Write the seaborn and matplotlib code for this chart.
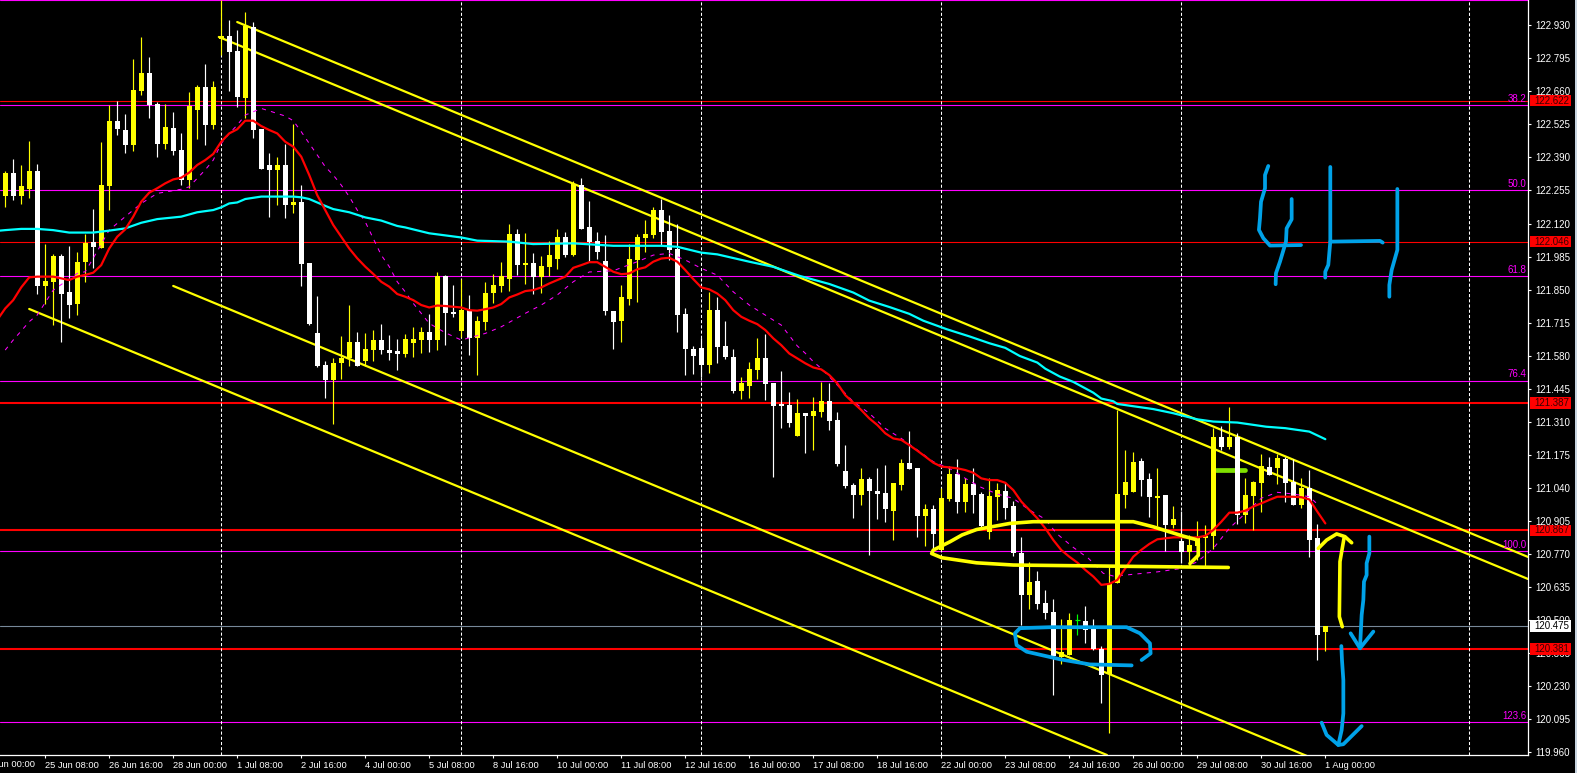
import matplotlib
matplotlib.use("Agg")
import matplotlib.pyplot as plt
from matplotlib.patches import Rectangle
from matplotlib.transforms import blended_transform_factory
import seaborn as sns

candle_kind = list("YWYYWYYWWY" "YWYYWWYYWW" "YWWYYWYYWW" "YWWWYWYWWW" "WYYYWYYWWW"
                   "YYYWYWWYWY" "YYYYWYWYYY" "WYWWWWWYYY" "YYWWWWWWYW" "WWYYYWWWWY"
                   "WYYWWWWYWW" "WYYWWYWYYW" "YWWYYWWWYW" "WWYYGWWWYY" "YYWWYWYWYY"
                   "YYWYWYYYWY" "WWYWWY")

body_top = [
 122.328,122.328,122.273,122.334,122.334,121.885,121.987,121.987,121.840,121.963,
 122.040,122.044,122.277,122.539,122.539,122.502,122.665,122.735,122.735,122.608,
 122.514,122.510,122.420,122.600,122.678,122.678,122.678,122.886,122.886,122.825,
 122.927,122.923,122.506,122.359,122.359,122.359,122.208,122.208,121.959,121.673,
 121.542,121.550,121.571,121.636,121.636,121.607,121.644,121.644,121.603,121.599,
 121.648,121.648,121.677,121.677,121.905,121.905,121.758,121.766,121.766,121.721,
 121.836,121.869,121.905,122.077,122.077,121.958,121.958,121.946,121.991,122.065,
 122.065,122.281,122.277,122.105,122.048,121.967,121.762,121.819,121.975,122.065,
 122.077,122.175,122.175,122.089,122.016,121.750,121.607,121.611,121.766,121.766,
 121.619,121.574,121.468,121.525,121.570,121.570,121.468,121.382,121.378,121.346,
 121.346,121.354,121.395,121.395,121.317,121.109,121.052,121.076,121.076,121.027,
 121.019,121.060,121.142,121.142,121.121,120.954,120.954,121.000,121.097,121.097,
 121.056,121.056,121.015,121.007,121.031,121.027,120.966,120.774,120.656,120.660,
 120.570,120.533,120.370,120.501,120.500,120.496,120.464,120.382,120.652,121.015,
 121.064,121.146,121.150,121.077,121.007,121.011,120.913,120.823,120.807,120.840,
 120.844,121.248,121.248,121.248,121.248,121.011,121.064,121.130,121.126,121.162,
 121.158,121.064,121.040,121.040,120.836,120.476]

body_bottom = [
 122.232,122.232,122.232,122.261,121.865,121.865,121.881,121.832,121.787,121.791,
 121.963,122.024,122.020,122.273,122.506,122.441,122.441,122.661,122.604,122.445,
 122.445,122.416,122.298,122.298,122.584,122.522,122.522,122.874,122.821,122.637,
 122.633,122.502,122.343,122.339,122.339,122.196,122.196,121.955,121.709,121.538,
 121.481,121.481,121.550,121.571,121.538,121.558,121.603,121.603,121.591,121.587,
 121.587,121.632,121.644,121.644,121.644,121.754,121.750,121.681,121.652,121.652,
 121.717,121.836,121.864,121.893,121.950,121.950,121.901,121.901,121.942,121.975,
 121.991,121.991,122.097,122.044,122.003,121.762,121.717,121.721,121.811,121.971,
 122.060,122.073,122.085,122.012,121.746,121.607,121.578,121.542,121.542,121.615,
 121.574,121.435,121.435,121.456,121.521,121.464,121.374,121.374,121.305,121.252,
 121.334,121.334,121.350,121.313,121.138,121.048,121.011,121.011,121.027,121.015,
 120.954,120.946,121.052,121.117,120.925,120.925,120.852,120.786,120.995,120.982,
 120.982,121.011,120.884,120.860,121.003,120.958,120.774,120.602,120.602,120.566,
 120.529,120.354,120.349,120.358,120.496,120.460,120.382,120.276,120.280,120.652,
 121.011,121.023,121.072,121.003,120.999,120.889,120.889,120.778,120.778,120.803,
 120.836,120.844,121.207,121.207,120.930,120.930,121.007,121.060,121.093,121.122,
 121.060,120.970,120.970,120.827,120.439,120.452]

wick_high = [
 122.334,122.383,122.359,122.457,122.363,122.035,121.995,121.995,122.028,122.004,
 122.077,122.179,122.453,122.604,122.620,122.567,122.792,122.882,122.800,122.616,
 122.608,122.575,122.490,122.657,122.686,122.772,122.702,123.033,122.951,122.910,
 122.984,122.943,122.506,122.408,122.392,122.445,122.526,122.277,121.959,121.824,
 121.558,121.570,121.660,121.787,121.677,121.673,121.685,121.709,121.664,121.648,
 121.668,121.697,121.697,121.750,121.922,121.909,121.869,121.893,121.828,121.742,
 121.881,121.913,121.962,122.118,122.097,122.081,121.999,121.987,122.048,122.097,
 122.085,122.293,122.306,122.212,122.085,122.073,121.762,121.869,122.036,122.077,
 122.134,122.187,122.220,122.154,122.118,121.775,121.619,121.652,121.840,121.819,
 121.721,121.607,121.493,121.554,121.652,121.668,121.468,121.517,121.431,121.403,
 121.346,121.411,121.473,121.468,121.350,121.215,121.060,121.121,121.085,121.121,
 121.134,121.060,121.158,121.272,121.121,120.974,120.970,121.040,121.129,121.158,
 121.080,121.121,121.023,121.080,121.060,121.064,120.986,120.839,120.737,120.700,
 120.623,120.586,120.505,120.529,120.525,120.558,120.505,120.394,120.717,121.358,
 121.195,121.187,121.162,121.101,121.122,121.011,120.966,120.946,120.848,120.905,
 120.889,121.285,121.293,121.371,121.264,121.081,121.070,121.179,121.166,121.179,
 121.166,121.158,121.081,121.113,120.893,120.476]

wick_low = [
 122.189,122.216,122.200,122.224,121.832,121.791,121.705,121.636,121.734,121.746,
 121.881,121.938,122.020,122.175,122.482,122.408,122.416,122.645,122.551,122.392,
 122.424,122.400,122.277,122.265,122.465,122.441,122.506,122.808,122.661,122.596,
 122.551,122.469,122.343,122.147,122.196,122.142,122.163,121.865,121.705,121.534,
 121.407,121.301,121.485,121.538,121.538,121.538,121.558,121.587,121.562,121.521,
 121.574,121.574,121.591,121.595,121.603,121.623,121.738,121.656,121.583,121.501,
 121.685,121.795,121.840,121.844,121.909,121.873,121.832,121.836,121.905,121.934,
 121.983,121.987,122.097,121.962,121.975,121.746,121.607,121.636,121.787,121.799,
 122.003,122.060,122.028,121.971,121.677,121.501,121.505,121.493,121.509,121.550,
 121.566,121.427,121.403,121.407,121.484,121.399,121.084,121.284,121.288,121.252,
 121.183,121.195,121.330,121.276,121.129,121.040,120.917,120.970,120.766,120.913,
 120.901,120.827,121.031,121.117,120.839,120.803,120.790,120.786,120.986,120.937,
 120.941,120.937,120.876,120.831,120.909,120.913,120.762,120.480,120.545,120.545,
 120.504,120.194,120.321,120.358,120.439,120.407,120.378,120.161,120.039,120.652,
 120.958,121.023,121.007,120.921,120.885,120.782,120.876,120.733,120.733,120.746,
 120.721,120.791,121.195,121.199,120.893,120.897,120.868,120.942,121.093,121.056,
 120.983,120.970,120.958,120.758,120.337,120.374]

red_bars = list(range(-1, 166))
red_ma = [121.726,
 121.773,121.807,121.859,121.900,121.903,121.903,121.903,121.896,121.889,121.903,
 121.910,121.919,121.950,122.018,122.066,122.096,122.148,122.209,122.246,122.264,
 122.284,122.300,122.307,122.328,122.359,122.379,122.404,122.454,122.488,122.505,
 122.540,122.540,122.518,122.502,122.488,122.454,122.434,122.393,122.318,122.236,
 122.175,122.114,122.066,122.018,121.978,121.944,121.914,121.882,121.862,121.832,
 121.821,121.807,121.787,121.777,121.785,121.783,121.780,121.777,121.766,121.764,
 121.770,121.777,121.791,121.818,121.830,121.844,121.848,121.859,121.875,121.889,
 121.903,121.939,121.950,121.962,121.962,121.943,121.923,121.913,121.916,121.933,
 121.941,121.964,121.977,121.980,121.964,121.930,121.893,121.859,121.851,121.834,
 121.807,121.766,121.739,121.723,121.709,121.685,121.651,121.623,121.589,121.569,
 121.549,121.532,121.524,121.501,121.467,121.419,121.388,121.358,121.324,121.297,
 121.263,121.242,121.236,121.215,121.192,121.168,121.143,121.127,121.124,121.120,
 121.113,121.102,121.079,121.072,121.072,121.061,121.031,120.984,120.950,120.916,
 120.875,120.827,120.786,120.759,120.735,120.705,120.678,120.644,120.648,120.664,
 120.712,120.759,120.787,120.811,120.830,120.834,120.838,120.838,120.838,120.838,
 120.844,120.868,120.902,120.939,120.939,120.947,120.964,120.977,120.991,121.004,
 121.004,121.004,121.002,120.993,120.943,120.895]

cyan_bars = [-1,0,2,4,6,8,11,13,15,17,19,22,24,26,27,28,29,30,32,36,37,38,40,41,43,45,47,49,
             50,53,57,59,63,66,71,76,82,84,87,89,93,96,99.3,103,106,108,110.6,113,114.75,
             117.7,120.6,123,125,126.8,129,130,131.8,133.5,136,137,138.5,139,143.5,146,149,
             151,154,157.6,160,163,165]
cyan_ma = [122.090,122.093,122.098,122.098,122.093,122.083,122.083,122.091,122.100,122.123,
           122.138,122.148,122.166,122.175,122.186,122.202,122.206,122.220,122.230,122.230,
           122.227,122.220,122.192,122.179,122.166,122.145,122.132,122.110,
           122.104,122.080,122.063,122.050,122.046,122.036,122.039,122.029,122.029,122.025,
           122.001,121.994,121.964,121.943,121.906,121.873,121.838,121.805,121.778,121.751,
           121.723,121.688,121.658,121.631,121.612,121.579,121.552,121.527,121.495,121.473,
           121.429,121.405,121.394,121.383,121.362,121.345,121.320,121.311,121.307,121.290,
           121.284,121.270,121.239]

dash_bars = [0,1,2,3,4,6,9,10,11,13,15,17,19,22,23,25,26,27,28,29,30,32,33,35,36,37,38,39,40,
             41,42,43,44,45,46,47,48,49,50,51,52,53,55,57,60,62,65,67,69,71,73,76,79,81,83,85,
             87,89,91,93,95,97,99,100,101,102,104,105,106,108,110,112,114,116,118,120,122,124,
             126,128,130,131.4,133.5,135.4,137.25,138.5,140,144,147,149,151,153,155,157,159,161,163,164]
dash_ma = [121.603,121.644,121.681,121.719,121.746,121.848,121.916,121.923,121.978,122.093,
           122.148,122.202,122.243,122.260,122.270,122.339,122.379,122.447,122.488,122.522,
           122.563,122.590,122.580,122.559,122.540,122.495,122.447,122.400,122.352,122.318,
           122.277,122.230,122.175,122.127,122.059,121.991,121.944,121.882,121.841,121.794,
           121.753,121.712,121.674,121.644,121.671,121.698,121.753,121.787,121.828,121.882,
           121.922,121.927,121.964,121.991,121.998,121.971,121.937,121.909,121.841,121.787,
           121.746,121.705,121.620,121.590,121.556,121.528,121.460,121.426,121.392,121.345,
           121.283,121.242,121.195,121.147,121.120,121.079,121.042,121.015,120.997,120.950,
           120.912,120.854,120.797,120.752,120.691,120.680,120.684,120.697,120.711,120.738,
           120.793,120.875,120.936,120.998,121.022,121.015,121.004,120.974]

channel_bars = [[29, 190.33], [26.7, 190.33], [21, 162.7], [3, 137.7]]
channel_prices = [[122.943, 120.758], [122.882, 120.668], [121.865, 119.945], [121.771, 119.949]]

fib_levels = [123.031, 122.603, 122.255, 121.905, 121.478, 120.781, 120.084]
fib_labels = ["", "38.2", "50.0", "61.8", "76.4", "100.0", "123.6"]

red_levels = [122.622, 122.046, 121.387, 120.867, 120.381]
red_widths = [0.8, 0.8, 1.5, 1.5, 1.5]
bid_level = 120.475

separator_bars = [27, 57, 87, 117, 147, 183]

price_ticks = [122.930,122.795,122.660,122.525,122.390,122.255,122.120,121.985,121.850,121.715,
               121.580,121.445,121.310,121.175,121.040,120.905,120.770,120.635,120.500,120.365,
               120.230,120.095,119.960]
time_labels = ["24 Jun 00:00","25 Jun 08:00","26 Jun 16:00","28 Jun 00:00","1 Jul 08:00","2 Jul 16:00",
               "4 Jul 00:00","5 Jul 08:00","8 Jul 16:00","10 Jul 00:00","11 Jul 08:00","12 Jul 16:00",
               "16 Jul 00:00","17 Jul 08:00","18 Jul 16:00","22 Jul 00:00","23 Jul 08:00","24 Jul 16:00",
               "26 Jul 00:00","29 Jul 08:00","30 Jul 16:00","1 Aug 00:00"]
time_bars = list(range(-3, 166, 8))

# Hand-drawn annotations, as (bars, prices)
blue_strokes = [
 ([157.87,157.46,157.46,156.96,156.83,156.7,157.25,158.08,161.96],
  [122.355,122.318,122.264,122.209,122.141,122.094,122.060,122.030,122.032]),
 ([160.79,160.79,160.16,160.08,159.33,158.83,158.79],
  [122.220,122.137,122.100,122.046,121.964,121.917,121.872]),
 ([165.62,165.62,165.37,164.99,164.99], [122.351,122.046,121.951,121.923,121.899]),
 ([165.62,171.83,172.17], [122.046,122.049,122.042]),
 ([174.0,174.0,173.29,173.0,173.0], [122.261,122.012,121.930,121.869,121.821]),
 ([170.5,170.5,170.16,170.16,169.83,169.75,169.54,169.33],
  [120.841,120.773,120.732,120.684,120.657,120.582,120.521,120.385]),
 ([168.16,169.33,171.0], [120.446,120.385,120.453]),
 ([167,167.08,167.25,167.25,167.04,166.62], [120.394,120.337,120.255,120.119,120.051,119.990]),
 ([164.54,165.16,166.62,167.25,169.54], [120.081,120.031,119.990,119.993,120.067]),
 ([140.79,135.58,131.83,127.67,126.41,126.2,126.83,130.58,140.16,141.83,143.08,143.16,142.04],
  [120.315,120.319,120.340,120.371,120.398,120.446,120.467,120.471,120.471,120.446,120.405,120.364,120.337]),
]
yellow_strokes = [
 ([164.12,165.16,166.41,167.45,168.29], [120.793,120.827,120.852,120.841,120.816]),
 ([167.33,166.83,166.75,167.12], [120.834,120.739,120.514,120.473]),
 ([148.08,149.12,149.12,148.83,147.25,143.5,141.0,128.5,125.58,121.41,119.6,118.08,116.0,115.79,117.04,118.5,121.41,126.0,152.87],
  [120.731,120.765,120.813,120.829,120.843,120.881,120.902,120.902,120.895,120.870,120.848,120.820,120.786,120.772,120.755,120.748,120.734,120.725,120.715]),
]
green_bar_bars = [151.33, 155.0]
green_bar_price = 121.112

BLACK, WHITE, YELLOW, RED = "#000000", "#ffffff", "#ffff00", "#ff0000"
MAGENTA, CYAN, BLUE, LIME, GREY = "#ff00ff", "#00ffff", "#00a2e8", "#7fe000", "#778899"
FONT = "Liberation Sans"
FS = 7.0
FS_X = 6.7

sns.set_theme(style="dark", rc={"figure.facecolor": BLACK, "axes.facecolor": BLACK, "axes.grid": False,
                                "font.family": FONT})

fig = plt.figure(figsize=(15.77, 7.73), dpi=100)
ax = fig.add_axes([0, 18 / 773, 1528 / 1577, 755 / 773])
ax.set_xlim(-0.65, 190.33)
ax.set_ylim(119.949, 123.033)

for lvl in fib_levels:
    ax.axhline(lvl, color=MAGENTA, lw=0.8, zorder=1)
for lvl, w in zip(red_levels, red_widths):
    ax.axhline(lvl, color=RED, lw=w, zorder=1.1)
ax.axhline(bid_level, color=GREY, lw=0.8, zorder=1.1)
for b in separator_bars:
    ax.axvline(b, color=WHITE, lw=0.75, linestyle=(0, (3, 2)), zorder=1.2)


def draw(xs, ys, color, lw, z, **kw):
    sns.lineplot(x=xs, y=ys, ax=ax, estimator=None, sort=False, color=color, linewidth=lw,
                 zorder=z, legend=False, **kw)


for xs, ys in zip(channel_bars, channel_prices):
    draw(xs, ys, YELLOW, 1.6, 2)
draw(green_bar_bars, [green_bar_price] * 2, LIME, 3.4, 2.5)

colors = {"Y": YELLOW, "W": WHITE, "G": "#00ff00"}
bars = list(range(len(candle_kind)))
cols = [colors[k] for k in candle_kind]
ax.vlines(bars, wick_low, wick_high, colors=cols, lw=0.85, zorder=3)
heights = [max(t - b, 0.004) for t, b in zip(body_top, body_bottom)]
ax.bar([b for b, k in zip(bars, candle_kind) if k != "G"],
       [h for h, k in zip(heights, candle_kind) if k != "G"],
       bottom=[b for b, k in zip(body_bottom, candle_kind) if k != "G"],
       width=0.63, color=[c for c, k in zip(cols, candle_kind) if k != "G"], linewidth=0, zorder=3.1)
for b, k in zip(bars, candle_kind):
    if k == "G":
        ax.hlines(body_top[b], b - 0.31, b + 0.31, colors="#00ff00", lw=0.85, zorder=3.1)

draw(dash_bars, dash_ma, MAGENTA, 0.75, 4, linestyle=(0, (4, 5)))
draw(cyan_bars, cyan_ma, CYAN, 1.6, 4.1)
draw(red_bars, red_ma, RED, 1.6, 4.2)

for xs, ys in yellow_strokes:
    draw(xs, ys, YELLOW, 2.6, 5)
for xs, ys in blue_strokes:
    draw(xs, ys, BLUE, 2.7, 5)

ax.set_xlabel("")
ax.set_ylabel("")
for s in ["top", "left"]:
    ax.spines[s].set_visible(False)
for s in ["bottom", "right"]:
    ax.spines[s].set_visible(True)
    ax.spines[s].set_color(WHITE)
    ax.spines[s].set_linewidth(0.9)

ax.yaxis.tick_right()
ax.set_yticks(price_ticks)
ax.set_yticklabels([f"{v:.3f}" for v in price_ticks], fontsize=FS, color=WHITE, family=FONT)
ax.tick_params(axis="y", direction="out", length=2.5, width=0.8, color=WHITE, pad=2.5, right=True, left=False)
ax.set_xticks(time_bars[1:])
ax.set_xticklabels(time_labels[1:], fontsize=FS_X, color=WHITE, ha="left", family=FONT)
ax.tick_params(axis="x", direction="out", length=2.5, width=0.8, color=WHITE, pad=1.5, bottom=True)
tx = blended_transform_factory(ax.transData, ax.transAxes)
ax.text(time_bars[0], -5.3 / 755, time_labels[0], transform=tx, fontsize=FS_X, color=WHITE, ha="left",
        va="top", clip_on=False, family=FONT)

rx = blended_transform_factory(ax.transAxes, ax.transData)
box_h = 0.047
for lvl, txt in zip(fib_levels, fib_labels):
    if txt:
        ax.text(1526.5 / 1528, lvl + 0.005, txt, transform=rx, color=MAGENTA, fontsize=FS,
                ha="right", va="bottom", family=FONT, zorder=6)
for lvl, face, ink in [(v, RED, "#3a0000") for v in red_levels] + [(bid_level, WHITE, BLACK)]:
    ax.add_patch(Rectangle((1530 / 1528, lvl - box_h / 2), 41 / 1528, box_h, transform=rx, facecolor=face,
                           edgecolor="none", clip_on=False, zorder=7))
    ax.text(1534 / 1528, lvl, f"{lvl:.3f}", transform=rx, color=ink, fontsize=FS, ha="left",
            va="center", family=FONT, clip_on=False, zorder=8)

fig.add_artist(Rectangle((1575 / 1577, 0), 2 / 1577, 1, transform=fig.transFigure, facecolor="#c8d4e0", edgecolor="none"))
fig.savefig("out.png", dpi=100, facecolor=BLACK)
